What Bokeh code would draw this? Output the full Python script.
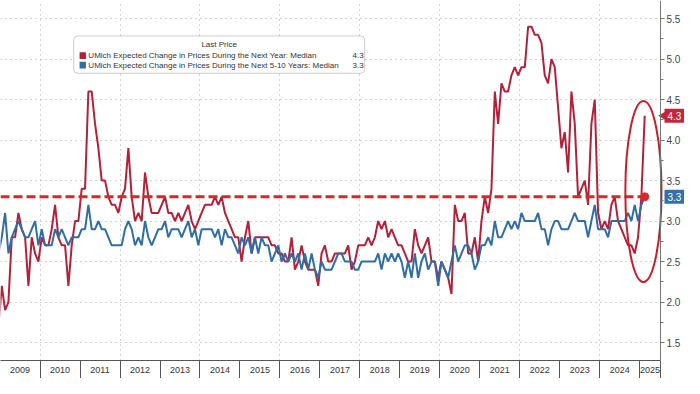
import numpy as np
import pandas as pd
from bokeh.plotting import figure
from bokeh.models import Range1d, FixedTicker, Label, BoxAnnotation, PrintfTickFormatter
from bokeh.embed import file_html
from bokeh.resources import INLINE

# ---------------- data (monthly, Dec 2008 .. Feb 2025) ----------------
START = "2008-12"
SHORT = [1.7,
    2.2, 1.9, 2.0, 2.8, 2.8, 3.1, 2.9, 2.8, 2.2, 2.8, 2.6, 2.5,   # 2009
    2.8, 2.7, 2.7, 2.9, 3.2, 2.8, 2.7, 2.7, 2.2, 2.7, 3.0, 3.0,   # 2010
    3.4, 3.4, 4.6, 4.6, 4.2, 3.9, 3.5, 3.5, 3.3, 3.2, 3.2, 3.1,   # 2011
    3.3, 3.4, 3.9, 3.3, 3.0, 3.1, 3.0, 3.6, 3.3, 3.1, 3.1, 3.1,   # 2012
    3.2, 3.3, 3.1, 3.1, 3.0, 3.1, 3.0, 3.1, 3.2, 3.0, 2.9, 3.0,   # 2013
    3.1, 3.2, 3.2, 3.2, 3.3, 3.2, 3.3, 3.1, 3.0, 2.9, 2.8, 2.8,   # 2014
    2.5, 2.8, 3.0, 2.6, 2.8, 2.8, 2.8, 2.8, 2.8, 2.7, 2.7, 2.6,   # 2015
    2.6, 2.5, 2.5, 2.8, 2.4, 2.5, 2.7, 2.5, 2.4, 2.4, 2.4, 2.2,   # 2016
    2.6, 2.7, 2.5, 2.5, 2.6, 2.6, 2.6, 2.6, 2.7, 2.4, 2.5, 2.7,   # 2017
    2.7, 2.7, 2.8, 2.7, 2.8, 3.0, 2.9, 3.0, 2.8, 2.9, 2.8, 2.7,   # 2018
    2.7, 2.6, 2.5, 2.5, 2.9, 2.7, 2.6, 2.7, 2.8, 2.5, 2.5, 2.3,   # 2019
    2.5, 2.4, 2.3, 2.1, 3.2, 3.0, 3.0, 3.1, 2.6, 2.6, 2.8, 2.5,   # 2020
    3.0, 3.3, 3.1, 3.4, 4.6, 4.2, 4.7, 4.6, 4.6, 4.8, 4.9, 4.8,   # 2021
    4.9, 4.9, 5.4, 5.4, 5.3, 5.3, 5.2, 4.8, 4.7, 5.0, 4.9, 4.4,   # 2022
    3.9, 4.1, 3.6, 4.6, 4.2, 3.3, 3.4, 3.5, 3.2, 4.2, 4.5, 3.1,   # 2023
    2.9, 3.0, 2.9, 3.2, 3.3, 3.0, 2.9, 2.8, 2.7, 2.7, 2.6, 2.8,   # 2024
    3.3, 4.3]                                                     # 2025
LONG = [2.6,
    2.8, 3.1, 2.6, 2.8, 2.9, 3.0, 2.9, 2.8, 2.8, 2.9, 3.0, 2.7,   # 2009
    2.9, 2.7, 2.7, 2.7, 2.9, 2.8, 2.9, 2.8, 2.7, 2.8, 2.8, 2.8,   # 2010
    2.9, 2.9, 3.2, 2.9, 2.9, 3.0, 2.9, 2.9, 2.8, 2.7, 2.7, 2.7,   # 2011
    2.7, 2.9, 3.0, 2.9, 2.7, 2.8, 2.7, 3.0, 2.8, 2.7, 2.8, 2.9,   # 2012
    2.9, 3.0, 2.8, 2.9, 2.9, 2.9, 2.8, 2.9, 3.0, 2.8, 2.9, 2.7,   # 2013
    2.9, 2.9, 2.9, 2.9, 2.8, 2.9, 2.7, 2.9, 2.8, 2.8, 2.7, 2.6,   # 2014
    2.8, 2.7, 2.8, 2.6, 2.8, 2.6, 2.8, 2.7, 2.7, 2.5, 2.6, 2.7,   # 2015
    2.5, 2.6, 2.5, 2.6, 2.5, 2.6, 2.4, 2.6, 2.4, 2.6, 2.4, 2.3,   # 2016
    2.5, 2.4, 2.4, 2.4, 2.5, 2.6, 2.6, 2.5, 2.5, 2.5, 2.4, 2.4,   # 2017
    2.5, 2.5, 2.5, 2.5, 2.5, 2.6, 2.4, 2.6, 2.5, 2.6, 2.5, 2.6,   # 2018
    2.5, 2.3, 2.5, 2.3, 2.6, 2.3, 2.5, 2.6, 2.4, 2.5, 2.5, 2.2,   # 2019
    2.5, 2.4, 2.3, 2.5, 2.7, 2.5, 2.6, 2.7, 2.7, 2.6, 2.4, 2.5,   # 2020
    2.7, 2.7, 2.8, 2.7, 3.0, 2.8, 2.8, 2.9, 3.0, 2.9, 3.0, 2.9,   # 2021
    3.1, 3.0, 3.0, 3.0, 3.0, 3.1, 2.9, 2.9, 2.7, 2.9, 3.0, 3.0,   # 2022
    2.9, 2.9, 2.9, 3.0, 3.1, 3.0, 3.0, 3.0, 2.8, 3.0, 3.2, 2.9,   # 2023
    2.9, 2.9, 2.8, 3.0, 3.0, 3.0, 3.0, 3.0, 3.1, 3.0, 3.2, 3.0,   # 2024
    3.2, 3.3]                                                     # 2025
YEAR_LABELS = [str(y) for y in range(2009, 2026)]
Y_TICKS = [1.5, 2.0, 2.5, 3.0, 3.5, 4.0, 4.5, 5.0, 5.5]
LEGEND_TITLE = "Last Price"
SERIES_NAMES = ["UMich Expected Change in Prices During the Next Year: Median",
                "UMich Expected Change in Prices During the Next 5-10 Years: Median"]

assert len(SHORT) == len(LONG)
months = pd.period_range(START, periods=len(SHORT), freq="M")
dates = np.array([m.year + (m.month - 0.5) / 12.0 for m in months])

# ---------------- style / layout ----------------
RED = "#b2213a"
BLUE = "#2f6da3"
DASH_RED = "#d8262b"
ELL_RED = "#c61f2a"
TAG_RED = "#c3263b"
TAG_BLUE = "#3070b0"
FONT = "Liberation Sans"
TXT = "#333333"

W, H = 684, 378
BOTTOM = 18
AXIS_PX = 660                      # where the value axis line sits (frame spans full width)
X0, X_AXIS = 2009.01, 2025.52
X_END = X0 + (X_AXIS - X0) * W / AXIS_PX
Y0, Y1 = 1.278, 5.724

# reference-pixel -> data helpers (layout only; reference plot area 676 x 376)
def fx(px):
    return X0 + px / 676.0 * (X_AXIS - X0)

def fy(py):
    return Y1 - py / 376.0 * (Y1 - Y0)

p = figure(width=W, height=H, x_range=Range1d(X0, X_END), y_range=Range1d(Y0, Y1),
           output_backend="svg", toolbar_location=None, y_axis_location="right",
           min_border_left=0, min_border_top=0, min_border_right=0, min_border_bottom=BOTTOM)
p.outline_line_color = None
p.background_fill_color = "white"
p.border_fill_color = "white"

# white strip behind the value-axis labels (covers grid there)
p.add_layout(BoxAnnotation(left=X_AXIS, fill_color="white", fill_alpha=1.0,
                           line_color=None, level="underlay"))

# x axis: labels mid-year, separators at year boundaries
label_pos = [y + 0.5 for y in range(2009, 2025)] + [(2025 + X_AXIS) / 2.0]
p.xaxis.ticker = FixedTicker(ticks=label_pos, minor_ticks=list(range(2010, 2026)) + [X_AXIS])
p.xaxis.major_label_overrides = {pos: lab for pos, lab in zip(label_pos, YEAR_LABELS)}
p.xaxis.bounds = (X0, X_AXIS)
p.xaxis.major_tick_out = 0
p.xaxis.major_tick_in = 0
p.xaxis.minor_tick_out = BOTTOM
p.xaxis.minor_tick_in = 0
p.xaxis.minor_tick_line_color = "#555555"
p.xaxis.axis_line_color = "#555555"
p.xaxis.major_label_text_font = FONT
p.xaxis.major_label_text_font_size = "9px"
p.xaxis.major_label_text_color = TXT
p.xaxis.major_label_standoff = -12

# y axis (right side, drawn at the fixed x location)
p.yaxis.fixed_location = X_AXIS
p.yaxis.ticker = FixedTicker(ticks=Y_TICKS, minor_ticks=[t + 0.25 for t in Y_TICKS[:-1]])
p.yaxis.formatter = PrintfTickFormatter(format="%.1f")
p.yaxis.major_tick_out = 4
p.yaxis.major_tick_in = 0
p.yaxis.minor_tick_out = 3
p.yaxis.minor_tick_in = 0
p.yaxis.axis_line_color = "#777777"
p.yaxis.major_tick_line_color = "#777777"
p.yaxis.minor_tick_line_color = "#777777"
p.yaxis.major_label_text_font = FONT
p.yaxis.major_label_text_font_size = "10px"
p.yaxis.major_label_text_color = "#444444"
p.yaxis.major_label_standoff = 2

# grids
p.ygrid.ticker = FixedTicker(ticks=Y_TICKS)
p.xgrid.ticker = FixedTicker(ticks=list(range(2010, 2025, 2)))
for g in (p.xgrid, p.ygrid):
    g.grid_line_color = "#a8a8a8"
    g.grid_line_dash = "1 4"
    g.grid_line_width = 1

# series
p.line(dates, SHORT, line_color=RED, line_width=2)
p.line(dates, LONG, line_color=BLUE, line_width=2)

# dashed reference at last long-run value
p.line([X0, dates[-1]], [LONG[-1], LONG[-1]], line_color=DASH_RED, line_width=3, line_dash="9 4")
p.scatter([dates[-1]], [LONG[-1]], size=8, color=DASH_RED)

# highlight ellipse
p.ellipse(x=fx(658.5), y=fy(199.5), width=37 / 676.0 * (X_AXIS - X0),
          height=189 / 376.0 * (Y1 - Y0), fill_color=None, line_color=ELL_RED, line_width=2)

# legend box
p.add_layout(BoxAnnotation(left=fx(75), right=fx(373), top=fy(37), bottom=fy(76),
                           fill_color="white", fill_alpha=1.0, line_color="#555555",
                           line_width=1, border_radius=4))
p.add_layout(Label(x=fx(224), y=fy(46), text=LEGEND_TITLE, text_align="center",
                   text_baseline="middle", text_font=FONT, text_font_size="8px", text_color=TXT))
for i, (name, col, last) in enumerate(zip(SERIES_NAMES, [RED, BLUE], [SHORT[-1], LONG[-1]])):
    yy = 57.5 + i * 10
    p.add_layout(BoxAnnotation(left=fx(81), right=fx(87.5), top=fy(yy - 3.5), bottom=fy(yy + 3.5),
                               fill_color=col, fill_alpha=1.0, line_color=None))
    p.add_layout(Label(x=fx(90), y=fy(yy), text=name, text_align="left", text_baseline="middle",
                       text_font=FONT, text_font_size="8px", text_color=TXT))
    p.add_layout(Label(x=fx(372), y=fy(yy), text=f"{last:.1f}", text_align="right",
                       text_baseline="middle", text_font=FONT, text_font_size="8px", text_color=TXT))

# last-value tags beside the value axis
dx_px = (X_END - X0) / W
p.scatter([X_AXIS + 4 * dx_px], [SHORT[-1]], marker="triangle", angle=np.pi / 2, size=11,
          color=TAG_RED, line_color=None)
for val, col, off in [(SHORT[-1], TAG_RED, 4), (LONG[-1], TAG_BLUE, 4)]:
    p.add_layout(Label(x=X_AXIS, y=val, x_offset=off, text=f"{val:.1f}", text_align="left",
                       text_baseline="middle", text_font=FONT, text_font_size="10px",
                       text_color="white", background_fill_color=col, background_fill_alpha=1.0,
                       padding=3))

open("out.html", "w").write(file_html(p, INLINE))
